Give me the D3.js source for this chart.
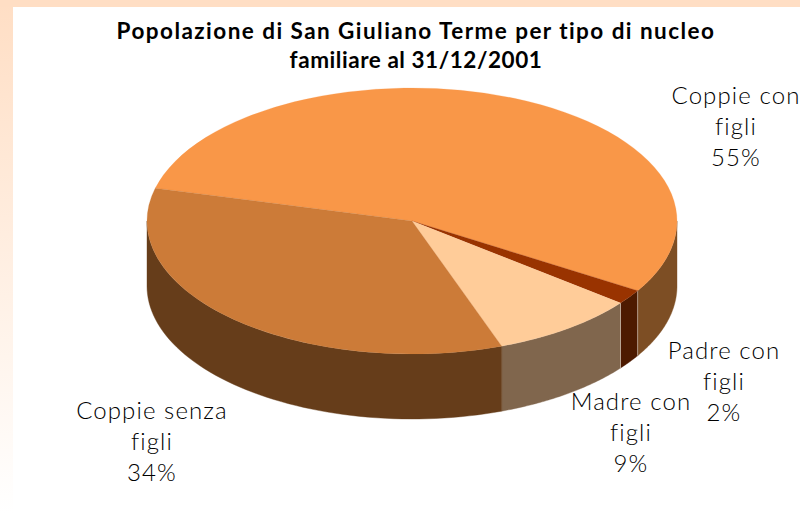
<!DOCTYPE html>
<html><head><meta charset="utf-8">
<script src="https://cdn.jsdelivr.net/npm/d3@7/dist/d3.min.js"></script>
<style>html,body{margin:0;padding:0;background:#fff;overflow:hidden}svg{display:block}</style>
</head><body><svg id="c" width="800" height="513"></svg>
<script>
const titleLines = ["Popolazione di San Giuliano Terme per tipo di nucleo", "familiare al 31/12/2001"];
const categories = ["Coppie con figli", "Padre con figli", "Madre con figli", "Coppie senza figli"];
const values = [54.7, 1.8, 8.9, 34.4];
const percentLabels = ["55%", "2%", "9%", "34%"];
const labelLines = [["Coppie con", "figli"], ["Padre con", "figli"], ["Madre con", "figli"], ["Coppie senza", "figli"]];
const topColors = ["#F99748", "#993300", "#FFCC99", "#CC7B38"];
const sideColors = ["#7D4E24", "#4D1A00", "#80664D", "#663D1A"];
const labelPos = [[736, 104], [724, 359], [631, 410], [152, 419]];
const titleSpacing = [1.45, 0.55];

const cx = 412, cy = 221, rx = 265, ry = 133, depth = 65;
const svg = d3.select("#c");
const defs = svg.append("defs");
const g = defs.append("linearGradient").attr("id","bg").attr("x1",0).attr("x2",0).attr("y1",0).attr("y2",1);
g.append("stop").attr("offset",0).attr("stop-color","#FFDEC4");
g.append("stop").attr("offset",1).attr("stop-color","#FFFFFF");
svg.append("rect").attr("width",800).attr("height",513).attr("fill","url(#bg)");
svg.append("rect").attr("x",0).attr("y",0).attr("width",800).attr("height",7).attr("fill","#FFDEC4");
svg.append("rect").attr("x",13).attr("y",7).attr("width",787).attr("height",506).attr("fill","#fff");

const pie = d3.pie().sort(null).startAngle(284.3*Math.PI/180).endAngle((284.3+360)*Math.PI/180);
const arcs = pie(values);
const px = d3.scaleLinear().domain([-1,1]).range([cx-rx,cx+rx]);
const py = d3.scaleLinear().domain([-1,1]).range([cy-ry,cy+ry]);
const ptX = a => px(Math.sin(a)), ptY = a => py(-Math.cos(a));

const FRONT0 = Math.PI/2, FRONT1 = 3*Math.PI/2;
function norm(a){ const t = 2*Math.PI; return ((a - FRONT0)%t + t)%t + FRONT0; }
const wall = d3.area().x(ptX).y0(ptY).y1(a => ptY(a)+depth);
arcs.forEach((d,i) => {
  let s = norm(d.startAngle), e = s + (d.endAngle-d.startAngle);
  const pieces = [];
  if (s < FRONT1) pieces.push([s, Math.min(e, FRONT1)]);
  if (e > 2*Math.PI + FRONT0) pieces.push([2*Math.PI+FRONT0, e]);
  pieces.forEach(([a,b]) => {
    svg.append("path").attr("d", wall(d3.range(0,61).map(k => a+(b-a)*k/60)))
      .attr("fill", sideColors[i]).attr("stroke", sideColors[i]).attr("stroke-width",0.4);
  });
});
// light edges between front walls
arcs.forEach((d,i) => {
  const a = norm(d.startAngle);
  if (a > FRONT0 && a < FRONT1 && i !== 3) {
    svg.append("line").attr("x1",ptX(a)).attr("x2",ptX(a)).attr("y1",ptY(a)).attr("y2",ptY(a)+depth)
      .attr("stroke","#C9B8A8").attr("stroke-width",0.8);
  }
});
// top slices
const arcGen = d3.arc().innerRadius(0).outerRadius(rx);
const topFace = svg.append("g").attr("transform",`translate(${cx},${cy}) scale(1,${ry/rx})`);
arcs.forEach((d,i) => {
  topFace.append("path").attr("d", arcGen(d)).attr("fill", topColors[i]).attr("stroke", topColors[i]).attr("stroke-width",0.3);
});

const font = "Lato, 'Open Sans', sans-serif";
titleLines.forEach((t,i) => {
  svg.append("text").attr("x",416).attr("y",39+i*29).attr("text-anchor","middle")
    .attr("font-family",font).attr("font-weight",700).attr("font-size",22.5).attr("letter-spacing",titleSpacing[i])
    .attr("fill","#000").text(t);
});
categories.forEach((c,i) => {
  const lines = labelLines[i].concat(percentLabels[i]);
  lines.forEach((t,j) => {
    svg.append("text").attr("x",labelPos[i][0]).attr("y",labelPos[i][1]+j*31).attr("text-anchor","middle")
      .attr("font-family",font).attr("font-weight",300).attr("font-size",24).attr("letter-spacing",1.1)
      .attr("fill","#000").text(t);
  });
});
</script></body></html>
